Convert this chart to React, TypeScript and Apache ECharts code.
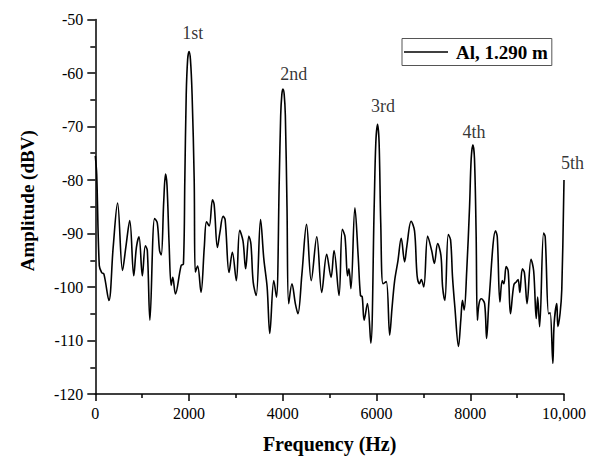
import React, { useEffect, useRef } from "react";
import * as echarts from "echarts";

const freqHz = [
  0, 30, 85, 136, 184, 290, 381, 475, 581, 651, 735, 820, 877, 932, 1004, 1068, 1110, 1165, 1265, 1322, 1371, 1407,
  1460, 1498, 1530, 1575, 1619, 1653, 1710, 1831, 1880, 1910, 1940, 1970, 2000, 2030, 2065, 2110, 2134, 2183, 2255,
  2325, 2373, 2431, 2500, 2536, 2606, 2657, 2727, 2770, 2854, 2924, 3009, 3081, 3151, 3208, 3278, 3321, 3369, 3433,
  3526, 3596, 3666, 3723, 3808, 3865, 3925, 3955, 3980, 4003, 4030, 4055, 4090, 4126, 4196, 4268, 4323, 4408, 4507,
  4607, 4725, 4831, 4937, 5030, 5094, 5200, 5270, 5327, 5382, 5412, 5454, 5539, 5609, 5658, 5694, 5736, 5806, 5878,
  5950, 5985, 6022, 6055, 6090, 6139, 6209, 6281, 6330, 6387, 6457, 6527, 6599, 6648, 6738, 6811, 6866, 6916, 6955,
  7008, 7092, 7177, 7234, 7304, 7374, 7410, 7459, 7531, 7580, 7622, 7671, 7749, 7798, 7834, 7870, 7925, 7985, 8020,
  8056, 8090, 8125, 8152, 8188, 8237, 8306, 8349, 8400, 8540, 8576, 8633, 8682, 8718, 8766, 8809, 8858, 8930, 8985,
  9021, 9057, 9112, 9155, 9212, 9296, 9353, 9408, 9438, 9480, 9565, 9599, 9671, 9705, 9762, 9790, 9847, 9868, 9917,
  9953, 10000,
];

const amplitudeDbv = [
  -75.5, -79, -96.0, -97.3, -97.6, -102.5, -92.6, -84.3, -96.9, -92.6, -87.6, -97.9, -92.6, -90.6, -97.9, -92.3, -93.2,
  -106.2, -87.2, -88, -93.2, -94, -84, -78.9, -81, -92, -99.7, -98.2, -101.3, -96, -95.7, -80, -64, -57.5, -56, -57.5,
  -64, -80, -97.2, -96.1, -101, -92.6, -87.8, -88.6, -83.7, -84.6, -92.6, -89.9, -86.8, -87.4, -97.3, -93.5, -98.8,
  -89.4, -91.4, -96.6, -90.5, -92, -99.1, -101.6, -87.4, -94.8, -100, -108.7, -98.8, -101.9, -80, -68, -64, -63, -64,
  -68, -85, -103.1, -99.4, -103.1, -105, -97.6, -88.3, -98.8, -90.6, -101, -93.9, -98.2, -93.2, -101.6, -89.2, -90.6,
  -97.9, -96.6, -100.3, -85.2, -94.3, -101.6, -101.8, -106.2, -103.1, -110.5, -85, -73, -69.6, -73, -88, -99.4, -99,
  -109, -104, -98.8, -95.1, -90.9, -95.3, -92.3, -87.7, -89.5, -97.9, -99.4, -98.6, -100, -90.5, -93.2, -95.6, -91.9,
  -94.1, -100, -102.5, -90.2, -91.2, -98.2, -103.7, -111.1, -106.2, -102.5, -104.3, -96.9, -85, -76, -73.4, -76, -90,
  -106.2, -103.1, -102.2, -103.1, -109.6, -102.5, -89.5, -90.6, -102.8, -98.8, -99.4, -96.2, -97, -105, -99.6, -99,
  -98.6, -101, -96.6, -97.3, -103.1, -94.8, -97, -105.9, -101.9, -107.4, -89.9, -90.6, -105, -104.8, -114.3, -106.8,
  -103.1, -107.4, -104.9, -100.4, -80,
];

const harmonicLabels = ["1st", "2nd", "3rd", "4th", "5th"];
const harmonicLabelFreq = [2080, 4232, 6139, 8082, 10182];
const harmonicLabelAmp = [-52.5, -60.1, -66.1, -71, -76.85];

const xTickValues = [0, 2000, 4000, 6000, 8000, 10000];
const xTickLabels = ["0", "2000", "4000", "6000", "8000", "10,000"];

const seriesName = "Al, 1.290 m";

export default function App() {
  const ref = useRef<HTMLDivElement>(null);
  useEffect(() => {
    if (!ref.current) return;
    const chart = echarts.init(ref.current, undefined, { renderer: "svg" });
    const font = "'Liberation Serif', 'Times New Roman', serif";
    const lineData = freqHz.map((f, i) => [f, amplitudeDbv[i]]);
    const labelData = harmonicLabels.map((t, i) => ({ value: [harmonicLabelFreq[i], harmonicLabelAmp[i]], name: t }));
    chart.setOption({
      animation: false,
      backgroundColor: "#fff",
      grid: { left: 95.3, right: 21.7, top: 19.5, bottom: 61, containLabel: false },
      legend: {
        left: 402,
        top: 38.5,
        data: [{ name: seriesName, icon: "rect" }],
        selectedMode: false,
        borderColor: "#555",
        borderWidth: 1,
        borderRadius: 0,
        padding: [4, 4, 4, 2],
        itemWidth: 44,
        itemHeight: 1.6,
        textStyle: { fontFamily: font, fontSize: 19, fontWeight: "bold", color: "#000", padding: [0, 0, 0, 3] },
      },
      xAxis: {
        type: "value",
        min: 0,
        max: 10000,
        interval: 2000,
        name: "Frequency (Hz)",
        nameLocation: "middle",
        nameGap: 40,
        nameTextStyle: { fontFamily: font, fontSize: 20, fontWeight: "bold", color: "#000" },
        axisLine: { show: true, onZero: false, lineStyle: { color: "#000", width: 1.5 } },
        axisTick: { show: true, length: 7, lineStyle: { color: "#000", width: 1.5 } },
        minorTick: { show: true, splitNumber: 2, length: 4, lineStyle: { color: "#000", width: 1.5 } },
        splitLine: { show: false },
        axisLabel: {
          fontFamily: font,
          fontSize: 16,
          color: "#000",
          margin: 11,
          formatter: (v: number) => {
            const idx = xTickValues.indexOf(v);
            return idx >= 0 ? xTickLabels[idx] : String(v);
          },
        },
      },
      yAxis: {
        type: "value",
        min: -120,
        max: -50,
        interval: 10,
        name: "Amplitude (dBV)",
        nameLocation: "middle",
        nameGap: 58,
        nameTextStyle: {
          fontFamily: font,
          fontSize: 19,
          fontWeight: "bold",
          color: "#000",
          padding: [0, 0, 0, 12],
        },
        axisLine: { show: true, onZero: false, lineStyle: { color: "#000", width: 1.5 } },
        axisTick: { show: true, length: 8, lineStyle: { color: "#000", width: 1.5 } },
        minorTick: { show: true, splitNumber: 2, length: 5, lineStyle: { color: "#000", width: 1.5 } },
        splitLine: { show: false },
        axisLabel: { fontFamily: font, fontSize: 16, color: "#000", margin: 12 },
      },
      series: [
        {
          name: seriesName,
          type: "line",
          data: lineData,
          symbol: "none",
          smooth: 0.35,
          lineStyle: { color: "#000", width: 1.6 },
          itemStyle: { color: "#000" },
        },
        {
          name: "labels",
          type: "scatter",
          data: labelData,
          symbolSize: 0,
          clip: false,
          silent: true,
          itemStyle: { color: "#000" },
          label: {
            show: true,
            position: "inside",
            formatter: (p: any) => p.name,
            fontFamily: font,
            fontSize: 18,
            color: "#000",
            textBorderWidth: 0,
          },
        },
      ],
    });
    return () => chart.dispose();
  }, []);
  return <div ref={ref} style={{ width: 589, height: 459, position: "absolute", left: 0, top: 0 }} />;
}
